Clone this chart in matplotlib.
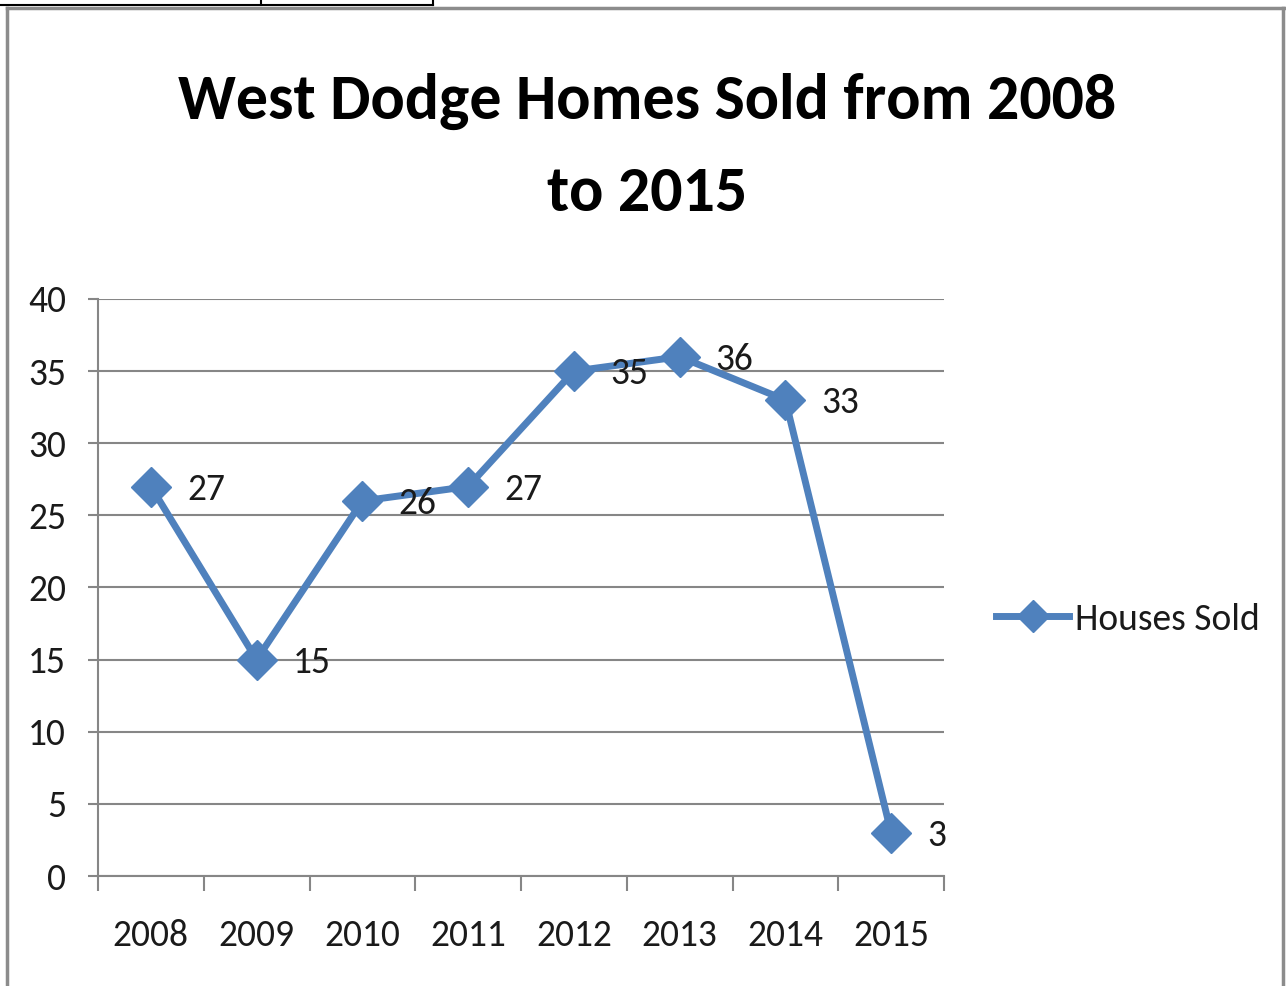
import matplotlib

matplotlib.use("Agg")
import matplotlib.pyplot as plt
from matplotlib.lines import Line2D

# chart data
years = ["2008", "2009", "2010", "2011", "2012", "2013", "2014", "2015"]
houses_sold = [27, 15, 26, 27, 35, 36, 33, 3]
y_ticks = [0, 5, 10, 15, 20, 25, 30, 35, 40]

title = "West Dodge Homes Sold from 2008\nto 2015"
series_name = "Houses Sold"

BLUE = "#4F81BD"
GRID = "#868686"
TEXT = "#1a1a1a"

plt.rcParams["font.family"] = ["Carlito", "DejaVu Sans"]

fig = plt.figure(figsize=(12.86, 9.86), dpi=100)
ax = fig.add_axes([98 / 1286, 1 - 876 / 986, 846 / 1286, 577 / 986])

x = list(range(len(years)))
ax.plot(x, houses_sold, color=BLUE, lw=5, marker="D", markersize=20,
        markeredgecolor=BLUE, markerfacecolor=BLUE, solid_joinstyle="round",
        zorder=3, clip_on=False)

for xi, v in zip(x, houses_sold):
    ax.annotate(str(v), (xi, v), xytext=(26, -2), textcoords="offset points",
                ha="left", va="center", fontsize=27, color=TEXT, zorder=4)

ax.set_xlim(-0.5, len(years) - 0.5)
ax.set_ylim(0, 40)
ax.set_yticks(y_ticks)
ax.set_yticklabels([str(t) for t in y_ticks])
ax.yaxis.grid(True, color=GRID, lw=1.5)
ax.set_axisbelow(True)

# category ticks sit between years, labels centred under each point
ax.set_xticks([i - 0.5 for i in range(len(years) + 1)])
ax.set_xticklabels([])
ax.set_xticks(x, minor=True)
ax.set_xticklabels(years, minor=True)
ax.tick_params(axis="x", which="major", length=11, width=1.5, color=GRID)
ax.tick_params(axis="x", which="minor", length=0, pad=31, labelsize=27,
               labelcolor=TEXT)
ax.tick_params(axis="y", length=7, width=1.5, color=GRID, pad=16,
               labelsize=27, labelcolor=TEXT)

for side in ["top", "right"]:
    ax.spines[side].set_visible(False)
for side in ["left", "bottom"]:
    ax.spines[side].set_color(GRID)
    ax.spines[side].set_linewidth(1.5)

fig.text(647 / 1286, 1 - 147 / 986, title, ha="center", va="center",
         fontsize=46, fontweight="bold", linespacing=1.75, color="black")

handle = Line2D([], [], color=BLUE, lw=5, marker="D", markersize=20)
fig.legend([handle], [series_name], loc="center left",
           bbox_to_anchor=(996 / 1286, 1 - 619 / 986), frameon=False,
           fontsize=27, handlelength=1.95, handletextpad=0.15, borderpad=0,
           borderaxespad=0, markerscale=0.8, labelcolor=TEXT)

# chart border and sheet cell lines
border = dict(color="#8c8c8c", lw=2.5, transform=fig.transFigure)
fig.add_artist(Line2D([7 / 1286, 1], [1 - 8 / 986, 1 - 8 / 986], **border))
fig.add_artist(Line2D([7 / 1286, 7 / 1286], [0, 1 - 8 / 986], **border))
fig.add_artist(Line2D([1283 / 1286, 1283 / 1286], [0, 1 - 8 / 986], **border))
cell = dict(color="black", lw=1.5, transform=fig.transFigure)
fig.add_artist(Line2D([0, 433 / 1286], [1 - 5 / 986, 1 - 5 / 986], **cell))
fig.add_artist(Line2D([261 / 1286, 261 / 1286], [1 - 5 / 986, 1], **cell))
fig.add_artist(Line2D([433 / 1286, 433 / 1286], [1 - 5 / 986, 1], **cell))

fig.savefig("out.png", dpi=100)
